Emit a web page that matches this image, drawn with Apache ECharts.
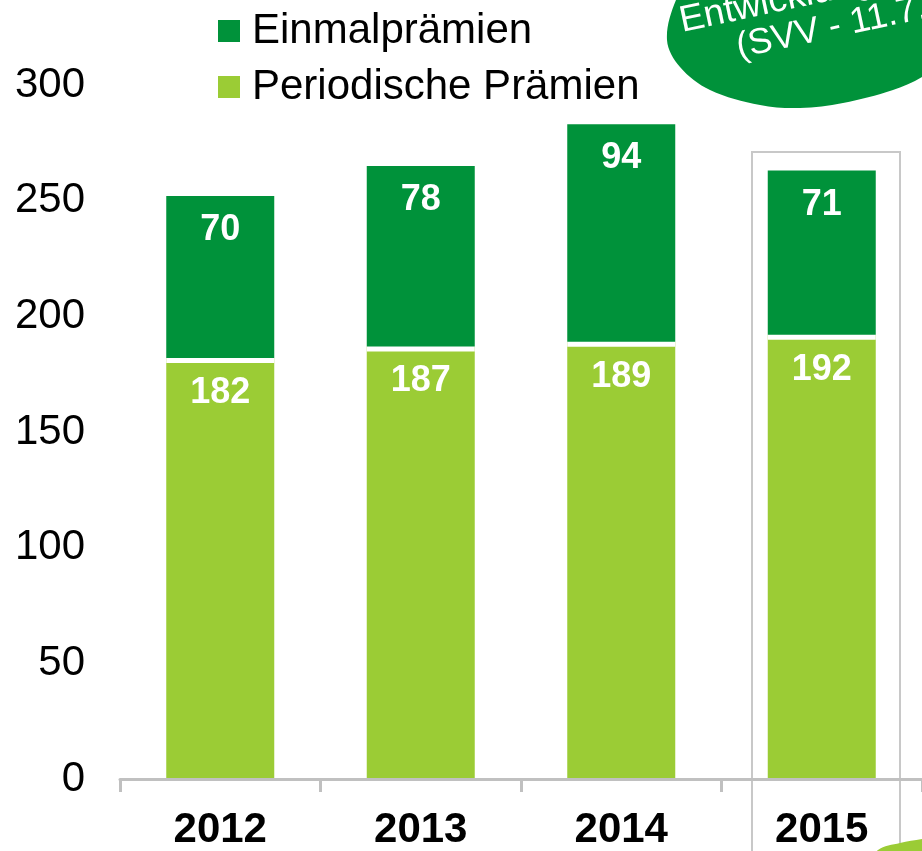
<!DOCTYPE html>
<html>
<head>
<meta charset="utf-8">
<script src="https://cdn.jsdelivr.net/npm/echarts@6/dist/echarts.min.js"></script>
<style>
  html, body { margin: 0; padding: 0; background: #fff; overflow: hidden; }
  #chart { width: 922px; height: 851px; }
</style>
</head>
<body>
<div id="chart"></div>
<script>
// Daten
const years = ["2012", "2013", "2014", "2015"];
const periodische = [182, 187, 189, 192];
const einmal = [70, 78, 94, 71];
const seriesNames = ["Einmalprämien", "Periodische Prämien"];
const yMin = 0, yMax = 300, yStep = 50;

const FONT = '"Liberation Sans", Arial, sans-serif';
const DARK = "#00923a";
const LIGHT = "#9bcc35";

const chart = echarts.init(document.getElementById("chart"));

const barLabel = {
  show: true,
  position: "insideTop",
  distance: 16,
  color: "#fff",
  fontSize: 36,
  fontWeight: "bold",
  fontFamily: FONT
};

chart.setOption({
  animation: false,
  grid: { left: 120, right: -5, top: 85, bottom: 70 },
  legend: {
    orient: "vertical",
    left: 218,
    top: 10,
    padding: 0,
    itemWidth: 22,
    itemHeight: 22,
    itemGap: 14,
    icon: "rect",
    selectedMode: false,
    data: seriesNames,
    textStyle: { fontSize: 42, lineHeight: 42, color: "#000", fontFamily: FONT, padding: [0, 0, 0, 7] }
  },
  xAxis: {
    type: "category",
    data: years,
    z: 5,
    axisLine: { lineStyle: { color: "#c0c0c0", width: 3 } },
    axisTick: { show: true, length: 13, lineStyle: { color: "#c0c0c0", width: 3 } },
    axisLabel: { fontSize: 42, fontWeight: "bold", color: "#000", fontFamily: FONT, margin: 30 }
  },
  yAxis: {
    type: "value",
    min: yMin,
    max: yMax,
    interval: yStep,
    axisLine: { show: false },
    axisTick: { show: false },
    splitLine: { show: false },
    axisLabel: { fontSize: 42, color: "#000", fontFamily: FONT, margin: 35 }
  },
  series: [
    {
      name: seriesNames[1],
      type: "bar",
      stack: "total",
      barWidth: 108,
      data: periodische,
      itemStyle: { color: LIGHT },
      label: Object.assign({}, barLabel, { distance: 17 }),
      emphasis: { disabled: true }
    },
    {
      // weisser Schatten nach unten = Trennfuge zwischen den Segmenten
      name: seriesNames[0],
      type: "bar",
      stack: "total",
      barWidth: 108,
      data: einmal,
      itemStyle: { color: DARK, shadowColor: "#ffffff", shadowOffsetY: 5, shadowBlur: 0 },
      label: barLabel,
      emphasis: { disabled: true }
    }
  ],
  graphic: [
    // Rahmen um 2015
    {
      type: "rect",
      z: 0,
      shape: { x: 752, y: 152, width: 148, height: 760 },
      style: { fill: "none", stroke: "#c8c8c8", lineWidth: 2 }
    },
    // grüne Blase oben rechts
    {
      type: "polygon",
      z: 10,
      shape: {
        smooth: 0.35,
        points: [[700, -40], [676, 0], [667, 40], [680, 67], [710, 90], [760, 105], [800, 108],
                 [843, 103], [893, 90], [922, 77], [960, 50], [960, -40]]
      },
      style: { fill: DARK }
    },
    {
      type: "text",
      z: 11,
      x: 680,
      y: 22,
      rotation: 0.21,
      style: { text: "Entwicklung der Prämien", fill: "#fff", font: '37px "Liberation Sans", Arial, sans-serif', align: "left", verticalAlign: "middle" }
    },
    {
      type: "text",
      z: 11,
      x: 737,
      y: 48,
      rotation: 0.21,
      style: { text: "(SVV - 11.7.2016)", fill: "#fff", font: '36px "Liberation Sans", Arial, sans-serif', align: "left", verticalAlign: "middle" }
    },
    // hellgrüne Form unten rechts
    {
      type: "polygon",
      z: 10,
      shape: {
        smooth: 0.35,
        points: [[865, 870], [878, 850], [900, 843], [922, 839], [950, 835], [960, 870]]
      },
      style: { fill: LIGHT }
    }
  ]
});
</script>
</body>
</html>
